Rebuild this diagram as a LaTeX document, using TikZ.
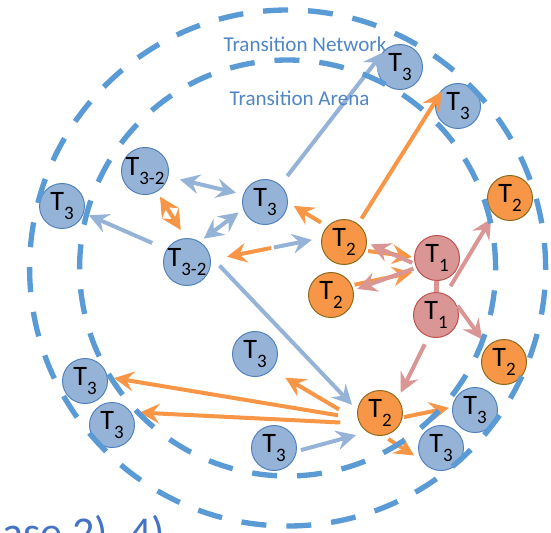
\documentclass[tikz,border=0pt]{standalone}
\usepackage{fontspec}
\setmainfont{Carlito}
\usetikzlibrary{arrows.meta}
\definecolor{ringblue}{HTML}{5B9BD5}
\definecolor{textblue}{HTML}{4F86C6}
\definecolor{capblue}{HTML}{4472C4}
\definecolor{bfill}{HTML}{95B3D7}
\definecolor{bline}{HTML}{4F81BD}
\definecolor{ofill}{HTML}{F79646}
\definecolor{oline}{HTML}{8C6A1C}
\definecolor{pfill}{HTML}{D99694}
\definecolor{pline}{HTML}{C0504D}
\newcommand{\tlab}[1]{T\raisebox{-6pt}{\fontsize{13.5pt}{13.5pt}\selectfont #1}}

\begin{document}
\begin{tikzpicture}[
  hd/.tip={Stealth[length=14pt,width=14pt,inset=5pt]},
  tthree/.style={circle,draw=bline,fill=bfill,line width=0.7pt,minimum size=1.125cm,inner sep=0pt,font=\fontsize{20pt}{20pt}\selectfont},
  ttwo/.style={tthree,draw=oline,fill=ofill},
  tone/.style={tthree,draw=pline,fill=pfill},
  barr/.style={draw=bfill,line width=2.85pt,-hd},
  oarr/.style={draw=ofill,line width=2.85pt,-hd},
  parr/.style={draw=pfill,line width=2.85pt,-hd},
  ring/.style={draw=ringblue,line width=3.8pt,dash pattern=on 17.8pt off 14.2pt},
  lbl/.style={text=textblue,inner sep=0pt,font=\fontsize{15pt}{15pt}\selectfont}
]
  \useasboundingbox (0,0) rectangle (13.775,-13.300);
  \coordinate (mid) at (7.190,-6.700);
  % T3 / T3-2
  \node[tthree] (t3a) at (10.000,-1.675) {\tlab{3}};
  \node[tthree] (t3b) at (11.450,-2.650) {\tlab{3}};
  \node[tthree] (t32a) at (3.625,-4.275) {\tlab{3-2}};
  \node[tthree] (t3c) at (1.550,-5.150) {\tlab{3}};
  \node[tthree] (t3d) at (6.625,-5.050) {\tlab{3}};
  \node[tthree] (t32b) at (4.675,-6.550) {\tlab{3-2}};
  \node[tthree] (t3e) at (6.375,-8.850) {\tlab{3}};
  \node[tthree] (t3f) at (2.125,-9.525) {\tlab{3}};
  \node[tthree] (t3g) at (2.800,-10.625) {\tlab{3}};
  \node[tthree] (t3h) at (11.875,-10.250) {\tlab{3}};
  \node[tthree] (t3i) at (11.025,-11.200) {\tlab{3}};
  \node[tthree] (t3j) at (6.850,-11.200) {\tlab{3}};
  % T2
  \node[ttwo] (t2a) at (8.600,-6.050) {\tlab{2}};
  \node[ttwo] (t2b) at (8.275,-7.375) {\tlab{2}};
  \node[ttwo] (t2c) at (12.750,-4.950) {\tlab{2}};
  \node[ttwo] (t2d) at (12.600,-9.050) {\tlab{2}};
  \node[ttwo] (t2e) at (9.500,-10.325) {\tlab{2}};
  % T1
  \node[tone] (t1a) at (10.925,-6.450) {\tlab{1}};
  \node[tone] (t1b) at (10.900,-7.875) {\tlab{1}};
  % blue arrows
  \draw[barr,shorten <=8pt,shorten >=3pt] (t3d.48) -- (t3a.129);
  \draw[barr,hd-hd,shorten <=8.5pt,shorten >=5.3pt] (t32a.-14) -- (t3d.161);
  \draw[barr,hd-hd,shorten <=3.5pt,shorten >=4pt] (t32b.58) -- (t3d.198);
  \draw[barr,shorten <=11.2pt,shorten >=3.9pt] (t32b.148) -- (t3c.-18);
  \draw[barr,shorten <=45.7pt,shorten >=6.8pt] (t32b.5) -- (t2a.170);
  \draw[barr,shorten <=9.6pt,shorten >=5.3pt] (t32b.15) -- (t2e.173);
  \draw[barr,shorten <=3pt,shorten >=8.2pt] (t3j.-8) -- (t2e.236);
  % orange arrows
  \draw[oarr,hd-hd,shorten <=4pt,shorten >=6.7pt] (t32a.-60) -- (t32b.93);
  \draw[oarr,shorten <=36.4pt,shorten >=11.7pt] (t2a.170) -- (t32b.5);
  \draw[oarr,shorten <=5.2pt,shorten >=4.8pt] (t2a.137) -- (t3d.-1);
  \draw[oarr,shorten <=4.4pt,shorten >=3.1pt] (t2a.52) -- (t3b.128);
  \draw[oarr,shorten <=2pt,shorten >=1.5pt] (t2a.-22) -- (t1a.178);
  \draw[oarr,shorten <=2pt,shorten >=4.3pt] (t2b.25) -- (t1a.215);
  \draw[oarr,shorten <=14.1pt,shorten >=4.6pt] (t2e.194) -- (t3f.10);
  \draw[oarr,shorten <=13.7pt,shorten >=6.2pt] (t2e.207) -- (t3g.34);
  \draw[oarr,shorten <=16pt,shorten >=11.2pt] (t2e.200) -- (t3e.-43);
  \draw[oarr,shorten <=1pt,shorten >=2.3pt] (t2e.-11) -- (t3h.173);
  \draw[oarr,shorten <=4.3pt,shorten >=6.2pt] (t2e.-82) -- (t3i.212);
  % pink arrows
  \draw[parr,shorten <=2pt,shorten >=2.8pt] (t1a.195) -- (t2a.-2);
  \draw[parr,shorten <=2pt,shorten >=2.8pt] (t1a.205) -- (t2b.12);
  \draw[parr,-,line width=3.6pt] (t1a) -- (t1b);
  \draw[parr,shorten <=6.6pt,shorten >=3.8pt] (t1b.65) -- (t2c.225);
  \draw[parr,shorten <=2pt,shorten >=6pt] (t1b.30) -- (t2d.137);
  \draw[parr,shorten <=6pt,shorten >=4.6pt] (t1b.251) -- (t2e.39);
  % network and arena
  \draw[ring] (mid) circle (6.450);
  \draw[ring] (mid) circle (5.200);
  \node[lbl] (net) at (7.625,-1.100) {Transition Network};
  \node[lbl] (arena) at (7.488,-2.450) {Transition Arena};
  \node[anchor=base west,inner sep=0pt,text=capblue,font=\fontsize{31.3pt}{31.3pt}\selectfont] (caption) at (0.050,-13.675) {ase 2), 4)};
\end{tikzpicture}
\end{document}
